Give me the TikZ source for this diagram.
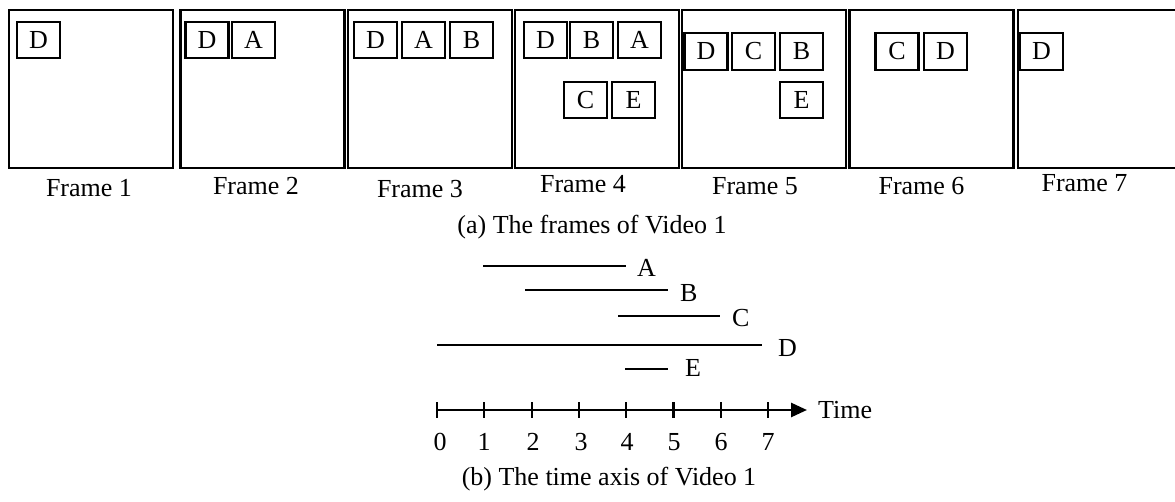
\documentclass[tikz,border=0pt]{standalone}
\usepackage{fontspec}
\setmainfont{Liberation Serif}
\usetikzlibrary{arrows.meta}
\begin{document}
\begin{tikzpicture}[x=1pt,y=-1pt,
  font=\fontsize{26}{31}\selectfont,
  frame/.style={draw, line width=2.4pt, minimum width=164pt, minimum height=158pt, inner sep=0pt},
  obj/.style={draw, line width=2.2pt, minimum width=43pt, minimum height=36.5pt, inner sep=0pt},
  lbl/.style={anchor=base, inner sep=0pt},
  lblw/.style={anchor=base west, inner sep=0pt},
  seg/.style={line width=2.6pt},
  tickmark/.style={line width=2.2pt}]
\useasboundingbox (0,0) rectangle (1175,502);
\clip (0,0) rectangle (1175,502);

% frames
\node[frame] (f1) at (91,89) {};
\node[frame] (f2) at (262.5,89) {};
\node[frame] (f3) at (430,89) {};
\node[frame] (f4) at (597,89) {};
\node[frame] (f5) at (764,89) {};
\node[frame] (f6) at (931.5,89) {};
\node[frame] (f7) at (1100,89) {};

% objects
\node[obj] (f1d) at (38.5,40) {D};
\node[obj] (f2d) at (207,40) {D};
\node[obj] (f2a) at (253.5,40) {A};
\node[obj] (f3d) at (375.5,40) {D};
\node[obj] (f3a) at (423.5,40) {A};
\node[obj] (f3b) at (471.5,40) {B};
\node[obj] (f4d) at (545.5,40) {D};
\node[obj] (f4b) at (591.5,40) {B};
\node[obj] (f4a) at (639.5,40) {A};
\node[obj] (f4c) at (585.5,100) {C};
\node[obj] (f4e) at (633.5,100) {E};
\node[obj] (f5d) at (706,51.5) {D};
\node[obj] (f5c) at (753.5,51.5) {C};
\node[obj] (f5b) at (801.5,51.5) {B};
\node[obj] (f5e) at (801.5,100) {E};
\node[obj] (f6c) at (897,51.5) {C};
\node[obj] (f6d) at (945.5,51.5) {D};
\node[obj] (f7d) at (1041.5,51.5) {D};

% frame labels
\node[lbl] (l1) at (89,197) {Frame 1};
\node[lbl] (l2) at (256,195) {Frame 2};
\node[lbl] (l3) at (420,198) {Frame 3};
\node[lbl] (l4) at (583,193) {Frame 4};
\node[lbl] (l5) at (755,195) {Frame 5};
\node[lbl] (l6) at (921.5,195) {Frame 6};
\node[lbl] (l7) at (1084.5,192) {Frame 7};

\node[lbl] (capa) at (592,234) {(a) The frames of Video 1};

% time segments
\coordinate (a1) at (483,266); \coordinate (a2) at (626,266);
\coordinate (b1) at (525,290); \coordinate (b2) at (668,290);
\coordinate (c1) at (618,316); \coordinate (c2) at (720,316);
\coordinate (d1) at (437,345); \coordinate (d2) at (762,345);
\coordinate (e1) at (625,369); \coordinate (e2) at (668,369);
\draw[seg] (a1) -- (a2);
\draw[seg] (b1) -- (b2);
\draw[seg] (c1) -- (c2);
\draw[seg] (d1) -- (d2);
\draw[seg] (e1) -- (e2);
\node[lblw] (la) at (637,277) {A};
\node[lblw] (lb) at (680,302) {B};
\node[lblw] (lc) at (732,327) {C};
\node[lblw] (ld) at (778,357) {D};
\node[lblw] (le) at (685,377) {E};

% axis
\coordinate (t0) at (437,410);
\coordinate (tend) at (807,410);
\draw[line width=2.6pt, -{Triangle[length=16pt,width=14pt]}] (t0) -- (tend);
\foreach \i/\lx in {0/440,1/484,2/533,3/581,4/627,5/674,6/721,7/768}{
  \coordinate (t\i) at ({437+47.3*\i},410);
  \draw[tickmark] (t\i) ++(0,-8) -- ++(0,16);
  \node[lbl] (n\i) at (\lx,450) {\i};
}
\node[lblw] (time) at (818,418) {Time};

\node[lbl] (capb) at (609,485) {(b) The time axis of Video 1};
\end{tikzpicture}
\end{document}
